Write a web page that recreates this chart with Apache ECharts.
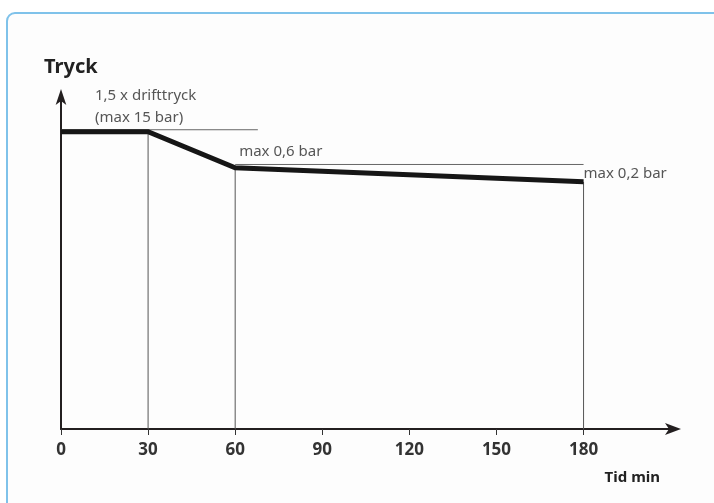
<!DOCTYPE html>
<html>
<head>
<meta charset="utf-8">
<title>Tryck</title>
<script src="https://cdn.jsdelivr.net/npm/echarts@6/dist/echarts.min.js"></script>
<style>
  html, body { margin: 0; padding: 0; background: #fff; overflow: hidden; }
  #chart { position: absolute; left: 0; top: 0; width: 714px; height: 503px; }
</style>
</head>
<body>
<div id="chart"></div>
<script>
// tid (min) och tryck (relativ nivå, ingen skala i originalet)
var tider = [0, 30, 60, 180];
var tryck = [89, 89, 78.2, 74];
var tickValues = [0, 30, 60, 90, 120, 150, 180];
// tunna hjälplinjer: [start, slut, nivå]
var hjalpLinje1 = [[0, 89.6], [67.8, 89.6]];
var hjalpLinje2 = [[60, 79.2], [180, 79.2]];
var etiketter = ["1,5 x drifttryck\n(max 15 bar)", "", "max 0,6 bar", "max 0,2 bar"];

var font = "Noto Sans";
var chart = echarts.init(document.getElementById("chart"));

var kurva = tider.map(function (t, i) { return [t, tryck[i]]; });
var lodLinjer = [1, 2, 3].map(function (i) {
  return {
    type: "line", silent: true, symbol: "none", z: 1,
    data: [[tider[i], 0], [tider[i], tryck[i]]],
    lineStyle: { color: "#555", width: 1 }
  };
});

var etikettPos = [[34, -3], null, [4, -5], [0, 3]];
var etikettData = [];
tider.forEach(function (t, i) {
  if (!etiketter[i]) return;
  etikettData.push({
    value: [t, tryck[i]],
    label: {
      show: true, formatter: etiketter[i], position: etikettPos[i],
      align: "left", verticalAlign: "bottom",
      color: "#2b2b2b", fontSize: 15, lineHeight: 22, fontFamily: font
    }
  });
});

chart.setOption({
  animation: false,
  // ljusblå ram runt diagrammet
  graphic: [{
    type: "rect", silent: true, z: -10,
    shape: { x: 7, y: 13, width: 800, height: 600, r: [8, 0, 0, 0] },
    style: { fill: "#fdfdfd", stroke: "#7fc2ea", lineWidth: 2 }
  }],
  title: {
    text: "Tryck", left: 39, top: 52,
    textStyle: { fontFamily: font, fontSize: 20, fontWeight: "bold", color: "#222" }
  },
  grid: { left: 61, right: 39, top: 95, bottom: 74, containLabel: false, outerBoundsMode: "none" },
  xAxis: {
    type: "value", min: 0, max: 211.5,
    name: "Tid min", nameLocation: "end", nameGap: -15,
    nameTextStyle: {
      fontFamily: font, fontSize: 15, fontWeight: "bold", color: "#222",
      align: "right", verticalAlign: "top", padding: [41, 0, 0, 0]
    },
    splitLine: { show: false },
    axisLine: {
      onZero: false, symbol: ["none", "arrow"], symbolSize: [9, 16], symbolOffset: [0, 6],
      lineStyle: { color: "#231f20", width: 2 }
    },
    axisTick: { show: true, length: 6, customValues: tickValues, lineStyle: { color: "#333", width: 1 } },
    axisLabel: {
      customValues: tickValues, margin: 13,
      fontFamily: font, fontSize: 17, fontWeight: "bold", color: "#333"
    }
  },
  yAxis: {
    type: "value", min: 0, max: 100,
    splitLine: { show: false },
    axisTick: { show: false },
    axisLabel: { show: false },
    axisLine: {
      show: true, onZero: false, symbol: ["none", "arrow"], symbolSize: [8, 16], symbolOffset: [0, 6],
      lineStyle: { color: "#231f20", width: 2 }
    }
  },
  series: lodLinjer.concat([
    {
      type: "line", silent: true, symbol: "none", z: 1,
      data: hjalpLinje1, lineStyle: { color: "#666", width: 1 }
    },
    {
      type: "line", silent: true, symbol: "none", z: 1,
      data: hjalpLinje2, lineStyle: { color: "#666", width: 1 }
    },
    {
      type: "line", silent: true, symbol: "none", z: 3,
      data: kurva, lineStyle: { color: "#161616", width: 5, join: "miter" }
    },
    {
      type: "scatter", silent: true, symbolSize: 0, z: 4,
      data: etikettData
    }
  ])
});
</script>
</body>
</html>
